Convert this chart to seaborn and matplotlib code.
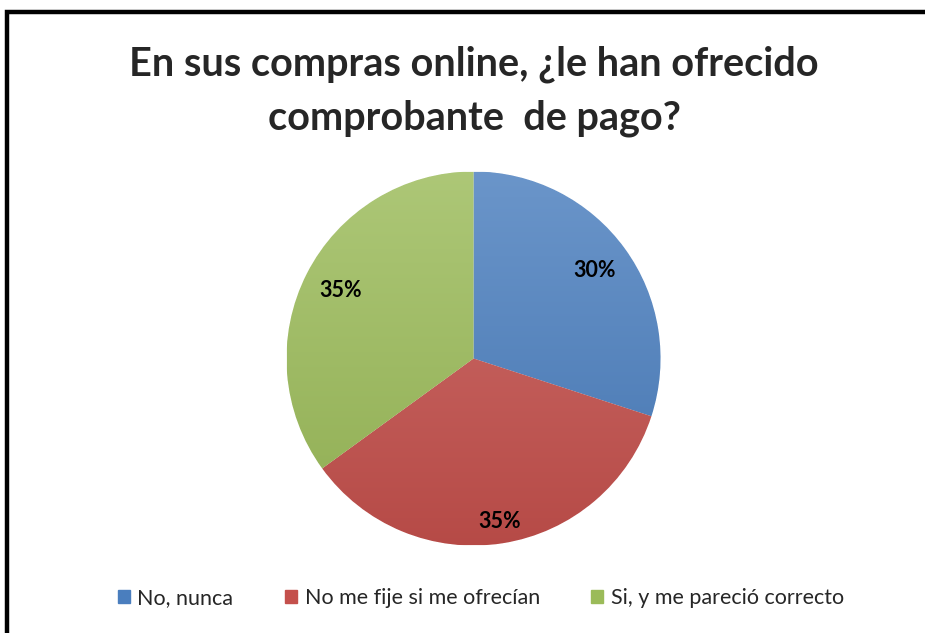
import matplotlib
matplotlib.use('Agg')
from matplotlib import pyplot as plt
from matplotlib.patches import Rectangle
import numpy as np
import seaborn as sns

categories = ["No, nunca", "No me fije si me ofrecían", "Si, y me pareció correcto"]
values = [30, 35, 35]
colors = ["#4A7EBE", "#C4504C", "#9BBB59"]
title = "En sus compras online, ¿le han ofrecido\ncomprobante  de pago?"

sns.set_theme(style="white")
plt.rcParams['font.family'] = ['Lato', 'DejaVu Sans']

fig = plt.figure(figsize=(9.25, 6.33), dpi=100)
W, H = 925, 633
cx, cy, r = 473.5, 358.5, 187
ax = fig.add_axes([(cx - r) / W, (H - cy - r) / H, 2 * r / W, 2 * r / H])

wedges, texts, autotexts = ax.pie(values, colors=colors, startangle=90, counterclock=False,
                                  autopct='%1.0f%%', pctdistance=0.8, radius=1,
                                  wedgeprops=dict(linewidth=0.6, edgecolor='white'),
                                  textprops=dict(fontsize=15.5, fontweight='bold', color='black'))
# red label sits a bit further out
x, y = autotexts[1].get_position()
autotexts[1].set_position((x * 1.1, y * 1.1))

# vertical gradient on each slice, lighter at top
ramp = np.linspace(0, 1, 256)[:, None]
for w, c in zip(wedges, colors):
    base = np.array(matplotlib.colors.to_rgb(c))
    light = base + (1 - base) * 0.18
    dark = base * 0.93
    img = light[None, None, :] * (1 - ramp[:, :, None]) + dark[None, None, :] * ramp[:, :, None]
    img = np.repeat(img, 2, axis=1)
    im = ax.imshow(img, extent=(-1, 1, -1, 1), origin='upper', zorder=1.5, aspect='auto')
    im.set_clip_path(w)
for t in autotexts:
    t.set_zorder(3)
ax.set_xlim(-1, 1)
ax.set_ylim(-1, 1)
ax.set_aspect('equal')
ax.axis('off')

fig.text(474 / W, 1 - 91 / H, title, ha='center', va='center', fontsize=28.5, fontweight='bold',
         linespacing=1.55)

handles = [Rectangle((0, 0), 1, 1, color=c) for c in colors]
fig.legend(handles, categories, loc='center', bbox_to_anchor=(481 / W, 1 - 598 / H), ncol=3,
           frameon=False, fontsize=15.5, handlelength=0.55, handleheight=0.55, handletextpad=0.35,
           columnspacing=2.4)

# outer border (right and bottom edges fall outside the picture)
fig.patches.append(Rectangle((6.5 / W, -0.1), 1.2, 1.1 - 12 / H, transform=fig.transFigure,
                             fill=False, edgecolor='black', linewidth=3.2))

plt.savefig("out.png", dpi=100)
